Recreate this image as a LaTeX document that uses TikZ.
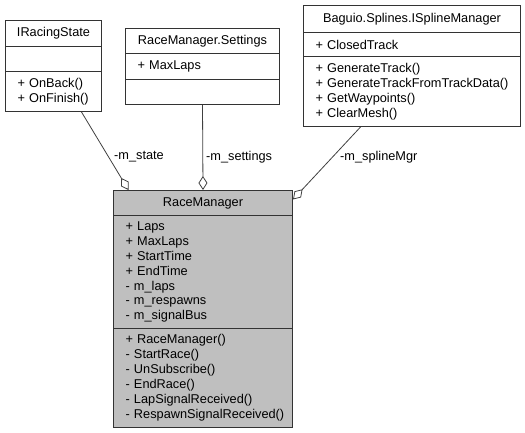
\documentclass[tikz,border=0pt]{standalone}
\usepackage{fontspec}
\setmainfont{Liberation Sans}
\usetikzlibrary{arrows.meta}
\definecolor{bordercol}{HTML}{333333}
\definecolor{linecol}{HTML}{404040}
\definecolor{mainfill}{HTML}{BFBFBF}
\begin{document}
\begin{tikzpicture}[x=1bp,y=-1bp,
  every node/.style={font=\fontsize{12.8}{15}\selectfont, text=black},
  comp/.style={draw=bordercol, line width=1bp, anchor=north west, inner sep=0pt, fill=white},
  title/.style={comp, align=center},
  list/.style={comp, align=left, inner xsep=12bp, inner ysep=0pt},
  conn/.style={draw=linecol, line width=0.8bp, -{Diamond[open, length=14bp, width=9bp, line width=0.8bp]}},
  lbl/.style={anchor=west, inner sep=0pt}]
\useasboundingbox (0,0) rectangle (525,433);
% IRacingState
\node[title, minimum width=96bp, minimum height=26bp] (irs-t) at (5,20) {IRacingState};
\node[list, minimum height=25bp, text width=72bp] (irs-a) at (5,46) {};
\node[list, minimum height=40bp, text width=72bp] (irs-m) at (5,71) {+ OnBack()\\+ OnFinish()};
% RaceManager.Settings
\node[title, minimum width=154bp, minimum height=25bp] (set-t) at (125,28) {RaceManager.Settings};
\node[list, minimum height=26bp, text width=130bp] (set-a) at (125,53) {+ MaxLaps};
\node[list, minimum height=25bp, text width=130bp] (set-m) at (125,79) {};
% Baguio.Splines.ISplineManager
\node[title, minimum width=217bp, minimum height=27bp] (spl-t) at (303,5) {Baguio.Splines.ISplineManager};
\node[list, minimum height=24bp, text width=193bp] (spl-a) at (303,32) {+ ClosedTrack};
\node[list, minimum height=70bp, text width=193bp] (spl-m) at (303,56) {+ GenerateTrack()\\\mbox{+ GenerateTrackFromTrackData()}\\+ GetWaypoints()\\+ ClearMesh()};
% RaceManager
\node[title, fill=mainfill, minimum width=179bp, minimum height=25bp] (rm-t) at (113,190) {RaceManager};
\node[list, fill=mainfill, minimum height=113bp, text width=155bp] (rm-a) at (113,215) {+ Laps\\+ MaxLaps\\+ StartTime\\+ EndTime\\- m\_laps\\- m\_respawns\\- m\_signalBus};
\node[list, fill=mainfill, minimum height=99bp, text width=155bp] (rm-m) at (113,328) {+ RaceManager()\\- StartRace()\\- UnSubscribe()\\- EndRace()\\- LapSignalReceived()\\\mbox{- RespawnSignalReceived()}};
% connectors
\draw[conn] ([xshift=28bp]irs-m.south) -- ([xshift=-74.5bp]rm-t.north);
\draw[conn] (set-m.south) -- (rm-t.north);
\draw[conn] ([xshift=-51.5bp]spl-m.south) -- ([yshift=3.5bp]rm-t.east);
% labels
\node[lbl] (l-state) at (114,157) {-m\_state};
\node[lbl] (l-settings) at (206,157) {-m\_settings};
\node[lbl] (l-spline) at (340,157) {-m\_splineMgr};
\end{tikzpicture}
\end{document}
